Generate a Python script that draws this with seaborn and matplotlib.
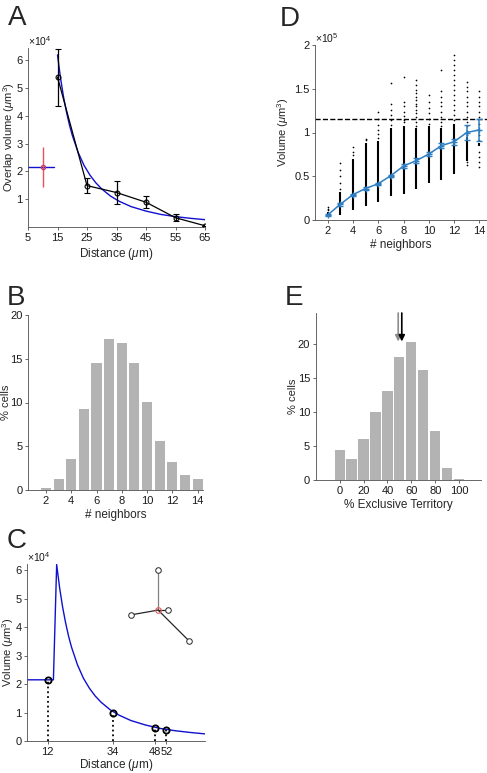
import matplotlib
matplotlib.use('Agg')
import matplotlib.pyplot as plt
from matplotlib.ticker import FuncFormatter
import seaborn as sns

# ---------------- panel A: overlap volume vs distance
dist = [15, 25, 35, 45, 55, 65]
overlap = [5.4e4, 1.48e4, 1.23e4, 0.88e4, 0.32e4, 0.03e4]
overlap_err = [1.03e4, 0.26e4, 0.40e4, 0.21e4, 0.12e4, 0.0]
red_x, red_y, red_err = 10, 2.15e4, 0.72e4

# fitted model
fit_x = [15, 16, 17, 18, 19, 20, 22, 24, 26, 28, 30, 33, 36, 40, 45, 50, 55, 60, 65]
fit_y = [6.20e4, 5.38e4, 4.71e4, 4.16e4, 3.69e4, 3.30e4, 2.68e4, 2.21e4, 1.86e4,
         1.58e4, 1.36e4, 1.10e4, 0.91e4, 0.72e4, 0.56e4, 0.44e4, 0.36e4, 0.30e4, 0.25e4]
flat_x = [5, 13.9]
flat_y = [2.15e4, 2.15e4]

# ---------------- panel B: neighbor count histogram
nb_n = [2, 3, 4, 5, 6, 7, 8, 9, 10, 11, 12, 13, 14]
nb_pct = [0.2, 1.3, 3.5, 9.3, 14.5, 17.3, 16.8, 14.5, 10.1, 5.6, 3.2, 1.7, 1.3]

# ---------------- panel C: model curve and sampled distances
c_dist = [12, 34, 48, 52]
c_vol = [2.15e4, 1.0e4, 0.47e4, 0.40e4]
hub_x, hub_y = 49.2, 4.6e4
node_x = [49.2, 52.6, 39.9, 59.6]
node_y = [6.0e4, 4.6e4, 4.43e4, 3.52e4]
edge_col = ['0.5', '0.15', '0.15', '0.15']

# ---------------- panel D: volume vs # neighbors
d_n = [2, 3, 4, 5, 6, 7, 8, 9, 10, 11, 12, 13, 14]
d_mean = [0.057e5, 0.18e5, 0.29e5, 0.36e5, 0.415e5, 0.507e5, 0.617e5, 0.678e5,
          0.754e5, 0.85e5, 0.895e5, 1.0e5, 1.03e5]
d_err = [0.012e5, 0.02e5, 0.012e5, 0.012e5, 0.012e5, 0.012e5, 0.02e5, 0.025e5,
         0.025e5, 0.03e5, 0.035e5, 0.085e5, 0.127e5]
dense_lo = [0.03e5, 0.06e5, 0.11e5, 0.16e5, 0.21e5, 0.27e5, 0.30e5, 0.35e5,
            0.42e5, 0.46e5, 0.53e5, 0.68e5, 0.85e5]
dense_hi = [0.09e5, 0.32e5, 0.70e5, 0.88e5, 0.90e5, 1.05e5, 1.08e5, 1.05e5,
            1.08e5, 1.05e5, 1.10e5, 0.95e5, 0.88e5]
sparse = {
    2: [0.11, 0.13, 0.15],
    3: [0.36, 0.42, 0.50, 0.57, 0.65],
    4: [0.74, 0.78, 0.83],
    5: [0.91, 0.93],
    6: [0.94, 0.98, 1.03, 1.09, 1.16, 1.24],
    7: [1.09, 1.14, 1.20, 1.26, 1.33, 1.57],
    8: [1.12, 1.14, 1.19, 1.24, 1.30, 1.35, 1.63],
    9: [1.07, 1.12, 1.18, 1.22, 1.26, 1.30, 1.33, 1.37, 1.41, 1.45, 1.49, 1.54, 1.60],
    10: [1.10, 1.16, 1.22, 1.28, 1.35, 1.43],
    11: [1.07, 1.12, 1.18, 1.24, 1.30, 1.35, 1.41, 1.47, 1.71],
    12: [1.14, 1.20, 1.26, 1.31, 1.37, 1.43, 1.49, 1.54, 1.60, 1.66, 1.71, 1.77, 1.83, 1.89],
    13: [0.63, 0.66, 0.97, 1.02, 1.07, 1.12, 1.18, 1.24, 1.30, 1.35, 1.41, 1.47, 1.52, 1.58],
    14: [0.61, 0.66, 0.72, 0.78, 0.91, 0.97, 1.10, 1.18, 1.24, 1.30, 1.35, 1.41, 1.47],
}
d_ref = 1.154e5

# ---------------- panel E: exclusive territory histogram
excl = [0, 10, 20, 30, 40, 50, 60, 70, 80, 90, 100]
excl_pct = [4.4, 3.1, 6.0, 10.0, 13.1, 18.1, 20.4, 16.2, 7.2, 1.8, 0.2]
arrow_x = [49, 52]
arrow_col = ['0.55', 'black']

sns.set_style('ticks')
plt.rcParams['font.family'] = ['Liberation Sans', 'DejaVu Sans']
plt.rcParams['mathtext.fontset'] = 'custom'
plt.rcParams['mathtext.rm'] = 'Liberation Sans'
plt.rcParams['mathtext.it'] = 'Liberation Sans:italic'
FS = 8
BAR = '#b3b3b3'
BLUE_D = '#2f7ec1'

W, H = 487, 773
fig = plt.figure(figsize=(W / 100, H / 100), dpi=100)


def box(l, t, r, b):
    return fig.add_axes([l / W, 1 - b / H, (r - l) / W, (b - t) / H])


def style(ax, ylab_px):
    # ylab_px: pixel x where the right edge of the rotated y label sits
    sns.despine(ax=ax)
    for s in ax.spines.values():
        s.set_linewidth(0.6)
        s.set_color('0.3')
    ax.tick_params(direction='out', length=2.5, width=0.6, labelsize=FS,
                   colors='0.3', labelcolor='0.1', pad=2)
    ax.tick_params(axis='y', pad=1.5)
    bb = ax.get_position()
    ax.yaxis.set_label_coords((ylab_px / W - bb.x0) / bb.width, 0.5)


def sci(ax, p):
    ax.yaxis.set_major_formatter(FuncFormatter(lambda v, _: f'{v / 10 ** p:g}'))
    ax.text(0, 1.0, r'$\times$10$^{%d}$' % p, transform=ax.transAxes,
            ha='left', va='bottom', fontsize=FS - 0.5, color='0.1')


# ---- A
axA = box(28, 48, 205, 226.6)
sns.lineplot(x=fit_x, y=fit_y, color='#1010d0', lw=1, estimator=None, ax=axA)
sns.lineplot(x=flat_x, y=flat_y, color='#1010d0', lw=1, estimator=None, ax=axA)
axA.errorbar(red_x, red_y, yerr=red_err, color='#e8505a', lw=1, capsize=0,
             marker='o', ms=3, mfc='none', mec='#c04070')
axA.errorbar(dist, overlap, yerr=overlap_err, color='black', lw=0.9, capsize=2,
             marker='o', ms=3.5, mfc='none', mec='black', mew=0.8)
axA.set_xlim(5, 65)
axA.set_ylim(0, 6.45e4)
axA.set_xticks([5, 15, 25, 35, 45, 55, 65])
axA.set_yticks([1e4, 2e4, 3e4, 4e4, 5e4, 6e4])
sci(axA, 4)
axA.set_xlabel(r'Distance ($\mu$m)', fontsize=FS + 0.5, labelpad=2)
axA.set_ylabel(r'Overlap volume ($\mu$m$^3$)', fontsize=FS)
style(axA, 17.5)

# ---- B
axB = box(28.3, 315, 203.3, 490)
sns.barplot(x=nb_n, y=nb_pct, native_scale=True, color=BAR, saturation=1,
            width=0.8, linewidth=0, ax=axB)
axB.set_xlim(0.6, 14.45)
axB.set_ylim(0, 20)
axB.set_xticks([2, 4, 6, 8, 10, 12, 14])
axB.set_yticks([0, 5, 10, 15, 20])
axB.set_xlabel('# neighbors', fontsize=FS + 0.5, labelpad=2)
axB.set_ylabel('% cells', fontsize=FS)
style(axB, 11)

# ---- C
axC = box(27, 564, 205, 741)
sns.lineplot(x=flat_x + fit_x, y=flat_y + fit_y, color='#1010d0', lw=1,
             estimator=None, sort=False, ax=axC)
axC.vlines(c_dist, 0, c_vol, colors='black', linestyles=':', lw=1.3)
axC.plot(c_dist, c_vol, 'o', ms=4.5, mfc='none', mec='black', mew=1.3)
for nx, ny, ec in zip(node_x, node_y, edge_col):
    axC.plot([hub_x, nx], [hub_y, ny], color=ec, lw=0.9)
axC.plot(node_x, node_y, 'o', ms=4, mfc='white', mec='0.15', mew=0.7)
axC.plot(hub_x, hub_y, 'o', ms=4, mfc='none', mec='#e05a5a', mew=0.8)
axC.set_xlim(5, 65)
axC.set_ylim(0, 6.22e4)
axC.set_xticks(c_dist)
axC.set_yticks([0, 1e4, 2e4, 3e4, 4e4, 5e4, 6e4])
sci(axC, 4)
axC.set_xlabel(r'Distance ($\mu$m)', fontsize=FS + 0.5, labelpad=0)
axC.set_ylabel(r'Volume ($\mu$m$^3$)', fontsize=FS)
style(axC, 16.5)

# ---- D
axD = box(315, 45, 487, 220)
axD.axhline(d_ref, color='black', ls='--', lw=1, zorder=1)
axD.vlines(d_n, dense_lo, dense_hi, colors='black', lw=1.5, zorder=2)
dot_n = [n for n, vals in sparse.items() for _ in vals]
dot_v = [v * 1e5 for vals in sparse.values() for v in vals]
sns.scatterplot(x=dot_n, y=dot_v, color='black', s=1.5, marker='o',
                linewidth=0, ax=axD, zorder=2)
axD.errorbar(d_n, d_mean, yerr=d_err, color=BLUE_D, lw=1.1, capsize=2,
             marker='+', ms=4, zorder=3)
axD.set_xlim(1, 14.6)
axD.set_ylim(0, 2e5)
axD.set_xticks([2, 4, 6, 8, 10, 12, 14])
axD.set_yticks([0, 0.5e5, 1e5, 1.5e5, 2e5])
sci(axD, 5)
axD.set_xlabel('# neighbors', fontsize=FS + 0.5, labelpad=2)
axD.set_ylabel(r'Volume ($\mu$m$^3$)', fontsize=FS)
style(axD, 291)

# ---- E
axE = box(315.7, 313, 480.7, 480)
sns.barplot(x=excl, y=excl_pct, native_scale=True, color=BAR, saturation=1,
            width=0.85, linewidth=0, ax=axE)
for ax_, ac in zip(arrow_x, arrow_col):
    axE.annotate('', xy=(ax_, 20.4), xytext=(ax_, 24.6),
                 arrowprops=dict(arrowstyle='-|>', color=ac, lw=1.2,
                                 mutation_scale=9, shrinkA=0, shrinkB=0))
axE.set_xlim(-20, 118)
axE.set_ylim(0, 24.6)
axE.set_xticks([0, 20, 40, 60, 80, 100])
axE.set_yticks([0, 5, 10, 15, 20])
axE.set_xlabel('% Exclusive Territory', fontsize=FS + 0.5, labelpad=2)
axE.set_ylabel('% cells', fontsize=FS)
style(axE, 298)

# panel letters
for lab, x, y in [('A', 8, 25), ('D', 280, 26), ('B', 7, 305), ('E', 285, 305), ('C', 7, 548)]:
    fig.text(x / W, 1 - y / H, lab, fontsize=20, va='baseline', ha='left')

fig.savefig('out.png', dpi=100)
